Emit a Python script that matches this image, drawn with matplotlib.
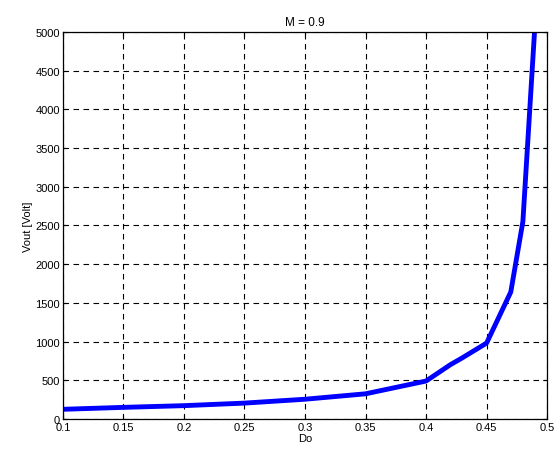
import matplotlib
matplotlib.use("Agg")
import matplotlib.pyplot as plt

do_vals = [0.10, 0.15, 0.20, 0.25, 0.30, 0.35, 0.40, 0.42, 0.43, 0.45, 0.47, 0.48, 0.49]
vout = [125, 150, 172, 205, 255, 325, 490, 700, 790, 980, 1640, 2550, 5100]

plt.rcParams['font.family'] = ['Liberation Sans', 'DejaVu Sans']
plt.rcParams['font.size'] = 8

fig = plt.figure(figsize=(5.56, 4.56), dpi=100)
ax = fig.add_axes([0.113, 0.079, 0.871, 0.849])

ax.plot(do_vals, vout, color='#0000ff', linewidth=3.5)

ax.set_xlim(0.1, 0.5)
ax.set_ylim(0, 5000)
ax.set_xticks([0.1, 0.15, 0.2, 0.25, 0.3, 0.35, 0.4, 0.45, 0.5])
ax.set_xticklabels(['0.1', '0.15', '0.2', '0.25', '0.3', '0.35', '0.4', '0.45', '0.5'])
ax.set_yticks(range(0, 5001, 500))
ax.grid(True, color='black', linestyle=(0, (5, 4)), linewidth=0.8)
ax.tick_params(direction='in', length=3, top=True, right=True, pad=2)
for s in ax.spines.values():
    s.set_linewidth(0.9)

ax.set_title('M = 0.9', fontsize=8.5, pad=5)
ax.set_xlabel('Do', labelpad=1)
ax.set_ylabel('Vout [Volt]', labelpad=2)

fig.savefig('out.png', dpi=100)
